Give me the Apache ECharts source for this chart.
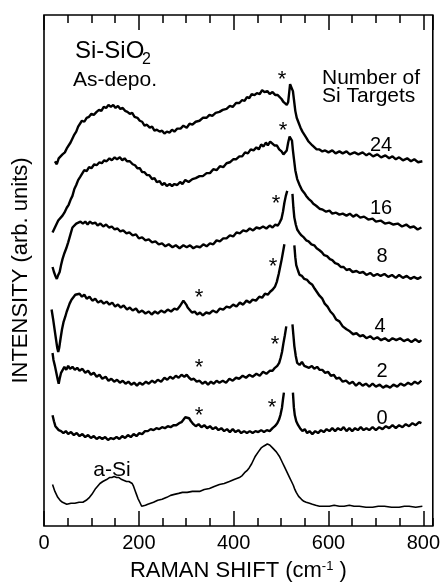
<!DOCTYPE html>
<html>
<head>
<meta charset="utf-8">
<script src="https://cdn.jsdelivr.net/npm/echarts@6/dist/echarts.min.js"></script>
<style>
  html, body { margin: 0; padding: 0; background: #fff; }
  #raman { width: 443px; height: 587px; }
</style>
</head>
<body>
<div id="raman"></div>
<script>
  // Raman shift (cm-1) vs. intensity (arb. units, curves already offset)
  var xTicks = [0, 200, 400, 600, 800];
  var targets = ['24', '16', '8', '4', '2', '0'];

  var spec24 = [[23,369],[27,366],[31,372],[35,371],[39,376],[44,378],[48,382],[52,381],[56,388],[60,390],[64,396],[68,399],[72,404],[76,405],[80,410],[85,409],[90,413],[95,414],[100,417],[105,416],[111,419],[116,421],[121,420],[126,424],[131,423],[136,426],[141,424],[146,426],[151,423],[156,425],[161,422],[166,423],[171,420],[176,419],[181,417],[186,418],[191,414],[197,413],[202,410],[207,409],[212,405],[217,406],[223,403],[228,404],[233,400],[238,401],[244,399],[249,400],[254,397],[259,399],[265,398],[270,401],[275,399],[281,402],[288,402],[294,405],[301,403],[307,407],[313,406],[320,409],[328,410],[335,413],[343,413],[349,416],[355,415],[362,418],[370,419],[377,421],[385,422],[392,425],[398,424],[405,428],[412,428],[418,431],[423,430],[428,434],[433,433],[438,437],[444,436],[449,438],[455,437],[460,441],[465,439],[471,440],[476,437],[482,439],[488,436],[493,436],[497,434],[501,432],[505,429],[509,427],[512,426],[515,429],[517,438],[519,447],[521,449],[523,448],[525,440],[527,432],[530,420],[533,413],[537,408],[541,403],[545,399],[549,396],[553,393],[558,389],[562,388],[566,385],[570,384],[575,381],[581,381],[587,379],[593,380],[600,378],[608,380],[615,377],[623,379],[630,377],[638,379],[645,376],[655,378],[663,376],[672,378],[680,375],[686,377],[694,374],[703,376],[711,373],[720,375],[728,372],[735,374],[742,371],[749,373],[757,370],[766,372],[774,369],[781,371],[789,368],[798,369]];

  var spec16 = [[18,297],[22,301],[26,303],[30,309],[34,308],[39,314],[43,317],[48,322],[52,325],[56,330],[60,334],[64,341],[68,345],[72,350],[76,353],[80,355],[85,360],[90,359],[95,363],[100,362],[106,366],[111,365],[117,368],[122,367],[127,370],[132,369],[138,372],[143,370],[149,373],[154,371],[160,373],[165,370],[170,372],[175,369],[181,369],[187,366],[192,365],[197,362],[202,362],[207,358],[212,358],[217,355],[222,355],[228,351],[233,352],[238,348],[244,349],[249,345],[254,347],[259,344],[265,346],[270,344],[275,346],[281,345],[287,348],[292,346],[298,350],[305,348],[313,351],[320,352],[328,354],[335,354],[343,357],[350,357],[357,361],[364,360],[371,364],[378,363],[385,367],[392,368],[399,371],[405,371],[412,374],[418,374],[424,378],[430,377],[436,381],[442,380],[448,383],[453,381],[458,386],[463,384],[468,388],[472,385],[477,389],[481,387],[486,385],[491,385],[496,381],[501,379],[505,376],[509,375],[512,380],[515,388],[518,394],[521,395],[523,390],[525,380],[527,372],[530,360],[534,351],[539,345],[544,340],[549,337],[553,334],[558,331],[563,329],[568,326],[574,324],[581,321],[588,320],[595,318],[602,319],[608,316],[616,317],[623,315],[630,316],[638,314],[645,316],[652,313],[659,315],[667,312],[675,313],[684,310],[693,311],[700,308],[710,309],[719,306],[728,307],[737,305],[746,306],[755,303],[764,305],[772,302],[780,303],[788,300],[796,302]];

  var spec8 = [[18,262],[21,257],[24,253],[27,250],[30,254],[33,257],[36,264],[39,270],[43,276],[47,281],[51,287],[54,292],[57,297],[60,302],[64,303],[68,306],[72,305],[77,308],[82,306],[87,308],[92,305],[97,308],[102,306],[108,307],[113,304],[119,306],[125,303],[131,305],[137,302],[143,303],[149,300],[155,301],[161,298],[167,299],[174,296],[180,297],[187,294],[194,295],[200,291],[207,292],[214,289],[221,290],[228,287],[235,288],[242,285],[249,286],[256,283],[263,285],[271,282],[278,284],[286,281],[294,284],[301,282],[308,284],[315,281],[322,283],[329,282],[336,285],[343,283],[350,286],[357,285],[364,289],[371,288],[378,291],[385,291],[392,294],[399,293],[406,297],[413,296],[420,299],[427,298],[434,301],[441,299],[448,302],[455,301],[462,303],[469,301],[476,304],[482,302],[488,305],[493,304],[497,307],[501,311],[504,318],[507,327],[510,334],[513,339],null,[524,336],[526,322],[528,312],[531,305],[534,300],[538,297],[543,294],[548,292],[553,289],[558,288],[564,285],[570,284],[575,281],[581,279],[586,277],[591,274],[597,273],[603,270],[608,269],[614,266],[620,265],[626,262],[632,262],[638,259],[644,260],[651,257],[659,258],[666,256],[673,257],[680,254],[688,256],[695,253],[703,255],[710,253],[718,255],[726,252],[734,254],[742,251],[749,254],[757,251],[765,253],[773,250],[780,252],[788,250],[796,252]];

  var spec4 = [[16,219],[19,210],[22,200],[25,190],[28,180],[30,176],[32,180],[35,190],[38,199],[41,206],[45,212],[48,217],[51,221],[54,225],[58,229],[62,231],[66,234],[70,232],[75,235],[80,232],[85,234],[90,230],[96,232],[102,228],[108,230],[114,226],[120,228],[126,225],[132,227],[138,224],[144,226],[150,222],[156,224],[162,221],[168,223],[175,219],[181,221],[187,218],[194,220],[200,216],[207,218],[214,215],[221,217],[227,214],[234,217],[240,215],[247,218],[254,216],[261,219],[268,217],[275,220],[281,219],[286,222],[290,224],[294,228],[297,229],[300,224],[303,221],[307,219],[312,216],[318,217],[323,214],[329,216],[335,213],[342,216],[349,215],[356,218],[364,216],[371,220],[378,219],[385,222],[392,221],[399,224],[406,222],[413,226],[420,224],[427,228],[434,226],[440,229],[447,228],[454,232],[460,231],[466,235],[472,234],[477,237],[482,239],[487,242],[491,247],[495,255],[498,262],[501,269],[504,277],[507,285],null,[528,284],[530,272],[532,264],[536,258],[539,254],[544,253],[549,250],[555,249],[560,246],[566,244],[571,240],[575,239],[581,233],[587,230],[592,225],[598,222],[604,217],[610,214],[616,209],[623,207],[630,202],[638,199],[645,197],[652,194],[659,195],[666,192],[673,193],[680,190],[688,192],[695,189],[703,191],[711,188],[719,190],[727,187],[735,190],[743,188],[751,190],[759,187],[767,189],[775,186],[783,189],[791,186],[796,188]];

  var spec2 = [[18,175],[20,168],[23,162],[26,155],[29,148],[31,144],[33,149],[36,155],[39,157],[43,161],[47,158],[51,162],[55,159],[60,161],[65,158],[70,160],[75,157],[81,159],[87,155],[93,157],[99,153],[105,155],[111,151],[117,153],[123,149],[130,151],[136,147],[142,149],[148,146],[154,148],[160,145],[166,147],[172,144],[178,146],[184,143],[190,145],[196,142],[202,145],[208,143],[215,146],[221,144],[228,147],[234,145],[240,148],[247,146],[254,150],[260,148],[266,151],[272,149],[278,152],[284,150],[290,153],[296,151],[301,153],[306,150],[311,148],[316,149],[322,146],[328,147],[334,144],[340,146],[346,143],[352,146],[358,144],[364,147],[370,145],[377,147],[384,145],[391,149],[398,147],[405,150],[412,149],[419,152],[426,150],[433,153],[440,151],[448,154],[455,152],[462,156],[469,154],[476,157],[482,157],[487,160],[492,162],[496,165],[499,170],[502,176],[505,185],[508,193],[511,202],null,[524,204],[526,193],[528,182],[531,172],[534,165],[539,163],[544,166],[549,162],[553,164],[559,160],[565,162],[570,159],[576,161],[581,158],[587,158],[593,155],[599,156],[605,152],[611,153],[617,149],[623,150],[630,146],[637,147],[644,144],[651,146],[658,142],[665,145],[672,142],[679,144],[686,141],[693,144],[700,141],[708,143],[715,140],[722,142],[730,140],[737,143],[745,141],[752,144],[760,142],[768,145],[775,143],[782,146],[789,144],[796,147]];

  var spec0 = [[18,112],[21,106],[24,101],[27,99],[31,97],[36,96],[41,94],[46,96],[51,93],[57,95],[63,92],[69,94],[75,91],[81,93],[87,90],[93,92],[99,89],[105,91],[111,88],[117,90],[123,88],[129,90],[135,87],[141,89],[147,88],[153,90],[159,88],[165,91],[171,89],[177,92],[183,90],[189,93],[195,91],[201,94],[207,93],[213,96],[219,96],[225,98],[231,97],[237,99],[243,98],[249,100],[255,99],[261,101],[267,100],[273,102],[279,102],[285,104],[290,105],[294,107],[298,110],[302,112],[306,109],[310,106],[315,103],[320,101],[326,103],[332,100],[338,102],[344,99],[350,101],[356,98],[362,100],[368,97],[374,99],[380,96],[386,98],[392,95],[398,98],[404,95],[410,97],[416,94],[422,96],[428,94],[434,96],[440,94],[446,96],[452,95],[458,97],[464,95],[470,97],[476,96],[482,99],[487,101],[492,104],[496,108],[499,113],[502,120],[504,128],[506,135],null,[525,135],[527,120],[529,112],[532,106],[536,102],[540,99],[545,96],[550,98],[555,94],[560,96],[566,93],[572,96],[578,94],[584,97],[590,95],[596,98],[602,96],[608,99],[614,96],[620,99],[626,97],[632,100],[638,96],[644,99],[650,96],[656,99],[662,97],[668,100],[674,97],[680,99],[686,97],[693,100],[700,97],[707,100],[714,98],[721,101],[728,99],[735,102],[742,99],[749,102],[756,100],[763,103],[770,101],[777,104],[784,102],[791,105],[796,104]];

  var specASi = [[18,42],[23,35],[29,29],[34,26],[39,24],[48,22],[57,23],[65,23],[74,24],[82,24],[89,26],[96,29],[101,32],[105,35],[109,38],[113,40],[118,43],[124,45],[128,46],[132,47],[138,49],[143,49],[148,50],[153,49],[158,49],[164,47],[169,46],[174,45],[179,45],[183,44],[186,43],[189,40],[192,36],[195,32],[198,28],[202,24],[206,20],[210,21],[214,21],[219,22],[223,22],[231,24],[240,26],[249,27],[259,29],[267,31],[275,32],[284,33],[292,34],[302,34],[313,35],[320,35],[328,35],[338,37],[349,38],[359,40],[370,42],[380,43],[391,45],[401,47],[412,49],[418,51],[423,54],[428,56],[433,59],[438,63],[442,67],[445,70],[448,72],[452,75],[455,77],[458,79],[461,80],[464,81],[467,82],[471,83],[476,82],[479,81],[482,79],[486,77],[490,75],[494,73],[497,70],[500,67],[503,64],[507,60],[511,56],[515,52],[518,49],[522,45],[526,41],[529,37],[532,34],[537,30],[543,27],[548,25],[553,24],[560,23],[566,22],[573,21],[581,20],[591,20],[602,20],[612,21],[623,20],[633,20],[644,21],[654,20],[665,20],[679,19],[693,19],[705,20],[718,20],[733,19],[749,19],[760,20],[770,20],[784,19],[798,20]];

  var font = "'Liberation Sans', Arial, Helvetica, sans-serif";

  function spectrum(data, width) {
    return {
      type: 'line',
      data: data.map(function (p) { return p === null ? ['-', '-'] : p; }),
      symbol: 'none',
      connectNulls: false,
      silent: true,
      lineStyle: { color: '#000', width: width }
    };
  }

  function ticksAxis(pos, interval, len, withLabels) {
    var ax = {
      type: 'value',
      position: pos,
      min: 0,
      max: 820,
      interval: interval,
      axisLine: { show: false },
      splitLine: { show: false },
      axisTick: { inside: true, length: len, lineStyle: { color: '#000', width: 1.5 } },
      axisLabel: { show: false }
    };
    if (withLabels) {
      ax.axisLabel = {
        show: true,
        margin: 7,
        color: '#000',
        fontFamily: font,
        fontSize: 20,
        showMaxLabel: false,
        formatter: function (v) { return xTicks.indexOf(v) >= 0 ? String(v) : ''; }
      };
      ax.name = 'RAMAN SHIFT (cm{sup|-1} )';
      ax.nameLocation = 'middle';
      ax.nameGap = 34;
      ax.nameTextStyle = {
        color: '#000', fontFamily: font, fontSize: 22, lineHeight: 22,
        rich: { sup: { fontFamily: font, fontSize: 13, lineHeight: 13, verticalAlign: 'top', color: '#000' } }
      };
    }
    return ax;
  }

  function note(str, x, y, size, align) {
    return {
      type: 'text', x: x, y: y, silent: true,
      style: { text: str, font: size + 'px ' + font, fill: '#000', align: align, verticalAlign: 'middle' }
    };
  }

  var chart = echarts.init(document.getElementById('raman'));

  var labelY = [145, 208, 256, 326, 371, 418];
  var labelX = [381, 381, 382, 380, 382, 382];
  var graphics = [
    note('Si-SiO', 75, 51, 24, 'left'),
    note('2', 142, 60, 16, 'left'),
    note('As-depo.', 73, 80, 21, 'left'),
    note('Number of', 322, 78, 21, 'left'),
    note('Si Targets', 322, 96, 21, 'left'),
    note('a-Si', 112, 470, 21, 'center')
  ];
  targets.forEach(function (t, i) {
    graphics.push(note(t, labelX[i], labelY[i], 20, 'center'));
  });
  [[282,75],[283,126],[276,199],[273,262],[199,293],[275,340],[199,363],[272,403],[199,411]].forEach(function (s) {
    graphics.push(note('*', s[0], s[1] + 5, 22, 'center'));
  });

  chart.setOption({
    animation: false,
    backgroundColor: '#fff',
    grid: {
      left: 44, right: 10, top: 15, bottom: 55,
      show: true, borderColor: '#000', borderWidth: 1.6
    },
    xAxis: [
      ticksAxis('bottom', 200, 15, true),
      ticksAxis('bottom', 50, 8, false),
      ticksAxis('top', 200, 15, false),
      ticksAxis('top', 50, 8, false)
    ],
    yAxis: {
      type: 'value',
      min: 0,
      max: 517,
      axisLine: { show: false },
      axisTick: { show: false },
      axisLabel: { show: false },
      splitLine: { show: false },
      name: 'INTENSITY (arb. units)',
      nameLocation: 'middle',
      nameGap: 12,
      nameTextStyle: { color: '#000', fontFamily: font, fontSize: 22 }
    },
    graphic: graphics,
    series: [
      spectrum(spec24, 2.4),
      spectrum(spec16, 2.4),
      spectrum(spec8, 2.4),
      spectrum(spec4, 2.4),
      spectrum(spec2, 2.4),
      spectrum(spec0, 2.4),
      spectrum(specASi, 1.6)
    ]
  });
</script>
</body>
</html>
